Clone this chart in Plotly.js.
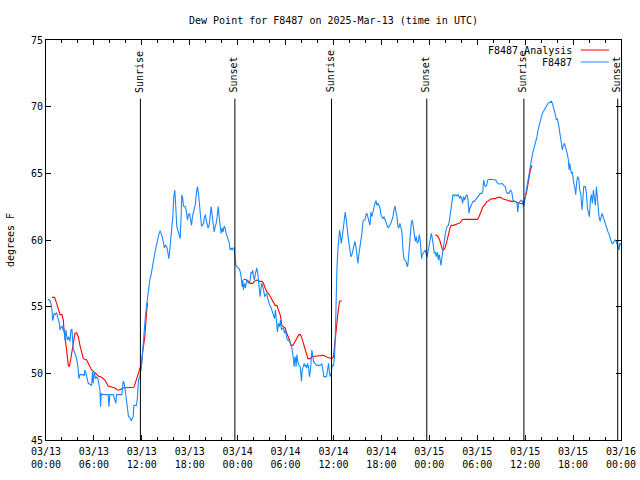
<!DOCTYPE html>
<html>
<head>
<meta charset="utf-8">
<script src="https://cdn.plot.ly/plotly-3.0.1.min.js"></script>
<style>html,body{margin:0;padding:0;background:#fff;}#chart{width:640px;height:480px;}</style>
</head>
<body>
<div id="chart"></div>
<script>
// Hours since 2025-03-13 00:00 UTC
const blueHours = [
0.25,0.5,0.625,0.75,0.83,0.92,1.0,1.17,1.33,1.42,1.54,1.67,1.75,1.875,2.0,2.17,2.25,2.375,2.5,2.67,2.83,3.0,3.125,3.25,3.42,3.58,3.83,4.0,4.125,4.25,4.67,4.79,4.875,5.08,5.29,5.71,5.83,5.92,6.04,6.21,6.33,6.54,6.75,6.83,6.92,7.08,7.375,7.79,7.875,8.0,8.42,8.75,8.83,9.25,9.5,9.67,9.79,9.92,10.08,10.21,10.33,10.5,10.67,10.92,11.0,11.33,11.46,11.58,11.75,11.96,12.08,12.17,12.29,12.42,12.58,12.79,13.0,
13.16,13.29,13.45,13.62,13.79,13.96,14.12,14.29,14.41,14.54,14.71,14.83,14.96,15.12,15.25,15.38,15.46,15.58,15.71,15.88,16.0,16.13,16.25,16.38,16.5,16.63,16.8,16.92,17.0,17.13,17.21,17.42,17.55,17.71,17.84,17.97,18.09,18.22,18.34,18.47,18.59,18.72,18.84,18.97,19.09,19.22,19.34,19.47,19.59,19.72,19.85,19.97,20.05,20.18,20.3,20.43,20.55,20.68,20.8,20.93,21.06,21.18,21.31,21.43,21.56,21.68,21.81,21.93,22.06,22.18,22.31,22.43,22.56,22.69,22.81,22.94,23.06,23.19,23.31,23.44,23.56,23.65,23.77,23.9,24.06,24.23,24.4,
24.56,24.64,24.72,24.85,24.97,25.14,25.35,25.56,25.68,25.81,25.89,25.98,26.1,26.23,26.39,26.52,26.65,26.73,26.81,26.9,27.02,27.15,27.27,27.4,27.52,27.65,27.77,27.9,28.02,28.15,28.27,28.4,28.48,28.61,28.73,28.86,28.98,29.11,29.24,29.36,29.49,29.61,29.74,29.86,29.99,30.11,30.24,30.36,30.49,30.61,30.74,30.82,30.91,30.99,31.07,31.16,31.24,31.32,31.41,31.53,31.66,31.83,31.91,31.99,32.08,32.2,32.33,32.45,32.58,32.66,32.74,32.87,32.99,33.12,33.29,33.37,33.5,33.66,33.91,34.33,34.54,34.67,34.79,35.0,35.13,35.25,35.38,35.5,35.58,35.71,35.84,36.0,36.13,36.25,
36.35,36.43,36.55,36.68,36.76,36.85,36.97,37.1,37.22,37.35,37.47,37.6,37.68,37.81,37.93,38.06,38.18,38.31,38.43,38.56,38.68,38.81,38.93,39.06,39.19,39.31,39.44,39.56,39.69,39.81,39.94,40.06,40.19,40.31,40.44,40.56,40.69,40.81,40.94,41.07,41.19,41.32,41.44,41.57,41.69,41.82,41.94,42.07,42.19,42.32,42.44,42.57,42.69,42.82,42.95,43.07,43.2,43.32,43.45,43.57,43.7,43.82,43.95,44.07,44.2,44.32,44.45,44.57,44.7,44.82,44.95,45.08,45.2,45.28,45.37,45.49,45.62,45.74,45.87,45.99,46.12,46.25,46.37,46.5,46.62,46.75,46.87,46.95,47.04,47.12,47.25,47.37,47.5,47.62,47.75,47.87,48.0,48.12,48.25,48.38,48.5,48.63,48.75,48.88,49.0,49.13,49.25,49.38,
49.46,49.59,49.71,49.79,49.92,50.04,50.21,50.38,50.5,50.63,50.75,50.88,50.96,51.13,51.3,51.46,51.63,51.8,51.92,52.05,52.17,52.3,52.43,52.55,52.72,52.84,52.97,53.09,53.22,53.34,53.47,53.64,53.76,53.89,54.05,54.18,54.39,54.56,54.68,54.81,54.93,55.06,55.18,55.31,55.48,55.73,56.06,56.31,56.48,56.69,56.9,57.1,57.31,57.52,57.65,57.81,57.98,58.15,58.32,58.48,58.65,58.82,58.98,59.07,59.19,59.32,59.49,59.65,59.82,59.94,60.07,60.24,60.36,60.49,60.66,60.78,
60.86,60.98,61.11,61.23,61.36,61.48,61.61,61.74,61.86,61.99,62.11,62.24,62.36,62.49,62.61,62.74,62.86,62.99,63.16,63.28,63.41,63.53,63.66,63.78,63.91,64.03,64.16,64.28,64.41,64.53,64.66,64.78,64.91,65.04,65.16,65.29,65.41,65.5,65.58,65.66,65.79,65.91,66.0,66.08,66.2,66.33,66.46,66.58,66.71,66.83,66.96,67.04,67.12,67.25,67.33,67.54,67.67,67.79,67.92,68.04,68.17,68.29,68.42,68.54,68.67,68.79,68.92,69.0,69.09,69.17,69.25,69.38,69.5,69.63,69.76,69.88,70.01,70.13,70.26,70.38,70.51,70.63,70.76,70.88,71.01,71.13,71.26,71.38,71.51,71.63,71.76,71.84,72.0
];
const blueDew = [
55.55,55.45,55.25,54.75,53.95,54.1,54.5,54.4,54.55,54.25,54.05,53.75,53.25,53.45,53.55,53.2,53.4,52.5,53.25,52.5,52.75,52.4,53.25,53.3,51.75,51.6,51.1,50.5,49.6,49.9,49.9,49.8,50.25,49.8,49.25,49.1,50.1,49.25,50.1,49.6,49.75,49.5,48.75,47.5,48.5,48.4,48.4,48.4,47.5,48.4,48.4,47.75,48.4,48.4,48.4,49.4,49.25,48.75,47.9,47.1,46.75,46.7,46.45,46.75,47.6,47.6,48.25,49.5,49.75,50.5,51.5,52.4,53.25,54.1,55.0,56.1,57.0,
57.4,58.0,58.4,59.0,59.5,60.1,60.4,60.7,60.5,60.25,59.8,59.4,59.6,59.5,59.1,58.6,59.0,59.75,60.6,61.75,63.25,63.75,62.5,61.0,60.75,60.5,60.1,61.75,63.4,63.1,62.55,62.5,62.25,61.5,61.9,62.0,61.6,61.1,61.75,62.1,62.25,62.75,63.6,64.0,63.5,62.5,61.5,61.05,61.1,61.25,61.75,61.9,61.5,61.1,60.9,61.1,62.0,62.5,61.9,61.0,60.6,61.0,61.25,61.75,62.5,61.75,61.0,60.5,60.9,60.6,61.05,60.9,60.5,60.25,60.0,59.8,59.25,59.4,59.25,59.4,59.4,58.5,58.1,58.0,57.9,57.8,57.4,
56.5,57.0,56.25,56.75,56.4,57.0,56.75,57.0,57.6,57.5,57.75,57.25,57.0,57.5,57.9,57.5,56.9,56.4,55.75,56.25,56.75,56.5,56.0,55.75,55.9,56.0,55.6,55.25,55.1,55.0,54.75,54.6,54.25,54.1,54.75,54.0,53.1,53.75,53.5,54.0,53.25,53.4,53.4,53.0,53.25,52.75,52.5,52.5,52.4,52.25,52.1,51.5,51.4,51.0,50.5,51.25,51.1,50.5,51.4,50.9,50.6,50.5,50.0,49.4,50.25,50.6,50.75,50.5,50.6,50.4,50.75,50.5,49.75,50.25,51.75,51.4,50.9,50.75,50.6,50.6,50.7,50.25,49.75,49.75,49.75,50.25,50.75,50.0,49.75,50.0,50.6,50.6,51.25,53.25,
56.25,57.9,59.25,60.1,60.75,60.4,59.75,60.25,61.0,61.75,62.1,61.5,61.0,60.25,59.75,59.25,58.75,58.9,59.25,59.6,59.9,59.5,58.6,58.25,59.0,59.5,59.9,60.5,61.4,61.5,61.5,61.9,62.0,61.75,61.4,61.1,62.1,61.75,62.1,62.5,62.75,62.95,62.6,62.75,62.5,62.4,61.9,61.75,61.6,61.75,61.5,61.25,61.0,60.9,61.0,61.1,61.3,61.5,61.75,62.25,62.55,62.1,61.75,61.0,60.9,61.25,60.9,60.6,59.25,58.6,58.5,58.4,58.1,58.0,58.5,59.25,60.6,61.25,61.5,60.9,60.4,59.9,60.25,59.75,59.9,60.4,59.9,59.1,58.6,58.9,59.0,59.1,59.25,58.9,58.75,59.25,59.75,60.1,60.5,60.1,59.4,59.0,59.1,58.75,59.1,58.5,58.9,58.5,
58.1,58.75,59.25,59.6,60.25,60.6,61.0,61.1,61.4,61.9,62.25,63.1,63.4,63.3,63.4,63.3,63.4,63.1,63.3,63.1,62.75,63.25,63.0,63.25,63.4,63.05,62.0,62.4,62.6,62.75,62.9,62.9,63.0,63.1,63.25,63.4,63.5,63.5,63.6,64.5,64.1,64.0,64.1,64.5,64.55,64.55,64.55,64.5,64.3,64.2,64.2,64.25,64.1,64.0,63.6,63.5,63.5,63.75,63.6,63.0,62.9,62.9,62.75,62.1,62.75,62.9,63.0,62.9,62.5,63.0,63.5,64.0,64.5,65.0,65.5,65.9,
66.25,66.6,66.9,67.1,67.4,67.75,68.25,68.6,68.9,69.1,69.4,69.6,69.75,69.9,70.0,70.1,70.25,70.3,70.4,70.4,70.25,70.0,69.6,69.4,69.0,69.1,68.75,68.25,67.6,67.0,66.75,67.1,67.25,67.0,66.75,66.4,66.0,65.25,65.75,65.5,65.0,65.1,64.5,64.25,64.0,63.4,64.4,64.75,64.6,63.75,63.5,62.5,62.25,63.25,64.0,64.0,63.5,62.4,62.0,61.75,63.0,63.4,62.75,63.75,63.1,62.6,64.0,63.25,62.5,62.1,61.75,61.4,61.75,62.0,61.75,61.5,61.25,61.0,60.9,60.6,60.45,60.1,59.9,59.75,59.75,59.9,60.0,59.9,59.75,59.5,59.25,59.75,59.6
];
// F8487 Analysis (null = gap)
const redHours = [
0.75,1.08,1.33,1.54,1.75,2.0,2.17,2.25,2.42,2.58,2.79,2.92,3.08,3.25,3.42,3.625,3.83,4.04,4.25,4.5,4.67,5.08,5.42,5.71,6.125,6.54,6.96,7.375,7.79,8.21,8.625,8.92,9.25,9.58,10.08,10.71,11.0,11.25,11.54,11.75,11.96,12.08,12.375,12.58,12.71,
18.0,
24.73,24.81,25.14,25.35,25.56,25.89,26.1,26.39,26.73,27.02,27.23,27.44,27.65,27.86,28.07,28.27,28.48,28.69,28.9,29.11,29.32,29.44,29.53,29.74,29.95,30.15,30.36,30.49,30.66,30.91,31.07,31.32,31.49,31.66,31.83,31.99,32.16,32.33,32.49,32.66,32.79,33.08,33.29,33.91,34.75,35.08,35.38,35.79,36.0,36.13,36.25,36.34,36.42,36.55,36.67,36.75,37.05,
43.0,
48.75,49.04,49.29,49.46,49.63,49.79,49.96,50.13,50.3,50.46,50.63,50.75,51.05,51.46,51.72,51.88,52.09,52.3,53.14,54.05,54.22,54.39,54.56,54.72,54.89,55.06,55.22,55.43,55.64,55.98,56.27,56.56,56.9,57.15,57.4,57.65,57.94,58.23,58.57,58.98,59.32,59.61,59.82,59.99,60.15,60.32,60.49,60.66,60.86
];
const redDew = [
55.7,55.7,55.25,54.75,54.4,54.4,54.0,53.25,52.6,51.75,50.6,50.5,51.0,51.75,52.4,53.0,53.05,52.75,52.1,51.5,51.1,51.0,50.6,50.25,50.05,49.8,49.7,49.5,49.05,49.0,48.9,48.75,48.75,48.9,48.9,48.9,48.95,49.4,50.0,50.35,50.75,51.5,52.75,54.5,55.3,
null,
57.05,57.05,57.0,56.9,56.75,56.75,56.9,57.0,56.9,56.9,56.75,56.4,56.1,56.0,55.75,55.6,55.25,55.1,55.1,54.75,54.4,54.0,53.6,53.5,53.4,53.0,52.75,52.5,52.1,52.1,52.25,52.5,52.75,52.9,52.9,52.75,52.4,52.0,51.6,51.4,51.1,51.1,51.25,51.3,51.35,51.25,51.2,51.1,51.25,52.1,53.0,53.5,54.0,54.5,55.0,55.4,55.45,
null,
60.4,60.3,60.0,59.6,59.3,59.25,59.4,59.75,60.25,60.6,61.0,61.1,61.1,61.2,61.25,61.3,61.5,61.55,61.55,61.55,61.75,62.0,62.25,62.5,62.6,62.75,62.9,62.95,63.05,63.1,63.1,63.2,63.2,63.1,63.05,63.0,62.95,62.9,62.9,62.8,62.75,62.7,62.8,63.1,63.5,64.1,64.75,65.25,65.6
];
const tickHours = [0,6,12,18,24,30,36,42,48,54,60,66,72];
const tickLabels = ['03/13<br>00:00','03/13<br>06:00','03/13<br>12:00','03/13<br>18:00','03/14<br>00:00','03/14<br>06:00','03/14<br>12:00','03/14<br>18:00','03/15<br>00:00','03/15<br>06:00','03/15<br>12:00','03/15<br>18:00','03/16<br>00:00'];
const sunriseHours = [11.82, 35.75, 59.84];
const sunsetHours = [23.65, 47.68, 71.59];
const seriesNames = ['F8487 Analysis', 'F8487'];
const seriesColors = ['#ff0000', '#1a88ff'];

const FONT = 'DejaVu Sans Mono, Liberation Mono, monospace';

const traces = [
  {x: redHours, y: redDew, type: 'scatter', mode: 'lines', name: seriesNames[0],
   line: {color: seriesColors[0], width: 1.1}, connectgaps: false, hoverinfo: 'skip'},
  {x: blueHours, y: blueDew, type: 'scatter', mode: 'lines', name: seriesNames[1],
   line: {color: seriesColors[1], width: 1.1}, hoverinfo: 'skip'}
];

const shapes = [];
const annotations = [];
function addEvent(h, label) {
  shapes.push({type: 'line', xref: 'x', yref: 'y', x0: h, x1: h, y0: 45, y1: 70.6,
               line: {color: 'black', width: 1}});
  annotations.push({x: h, y: 70.9, xref: 'x', yref: 'y', text: label, textangle: -90,
                    showarrow: false, xanchor: 'center', yanchor: 'bottom', xshift: -1,
                    font: {family: FONT, size: 10, color: 'black'}});
}
sunriseHours.forEach(h => addEvent(h, 'Sunrise'));
sunsetHours.forEach(h => addEvent(h, 'Sunset'));

// gnuplot-style key: text right-aligned, sample line to the right
const keyY = [0.975, 0.945];
seriesNames.forEach((n, i) => {
  annotations.push({x: 0.918, y: keyY[i], xref: 'paper', yref: 'paper', text: n,
                    showarrow: false, xanchor: 'right', yanchor: 'middle',
                    font: {family: FONT, size: 10, color: 'black'}});
  shapes.push({type: 'line', xref: 'paper', yref: 'paper', x0: 0.930, x1: 0.979,
               y0: keyY[i], y1: keyY[i], line: {color: seriesColors[i], width: 1}});
});

const layout = {
  width: 640, height: 480,
  margin: {l: 46, r: 19, t: 40, b: 40},
  paper_bgcolor: 'white', plot_bgcolor: 'white',
  font: {family: FONT, size: 10, color: 'black'},
  showlegend: false,
  title: {text: 'Dew Point for F8487 on 2025-Mar-13 (time in UTC)',
          x: 0.5, xref: 'paper', y: 1 - 20/480, yref: 'container', yanchor: 'middle',
          font: {family: FONT, size: 10, color: 'black'}},
  xaxis: {range: [0, 72], tickmode: 'array', tickvals: tickHours, ticktext: tickLabels,
          ticks: 'inside', ticklen: 5, tickwidth: 1, tickcolor: 'black',
          ticklabelstandoff: 2,
          showline: true, linecolor: 'black', linewidth: 1, mirror: 'ticks',
          showgrid: false, zeroline: false,
          tickfont: {family: FONT, size: 10, color: 'black'},
          minor: {tickmode: 'linear', tick0: 0, dtick: 2, ticks: 'inside', ticklen: 3,
                  tickcolor: 'black', showgrid: false}},
  yaxis: {range: [45, 75], tickmode: 'linear', tick0: 45, dtick: 5,
          ticks: 'inside', ticklen: 5, tickwidth: 1, tickcolor: 'black',
          showline: true, linecolor: 'black', linewidth: 1, mirror: 'ticks',
          showgrid: false, zeroline: false,
          tickfont: {family: FONT, size: 10, color: 'black'},
          title: {text: 'degrees F', font: {family: FONT, size: 10, color: 'black'}, standoff: 14}},
  shapes: shapes,
  annotations: annotations
};

Plotly.newPlot('chart', traces, layout, {staticPlot: true, displayModeBar: false});
</script>
</body>
</html>
